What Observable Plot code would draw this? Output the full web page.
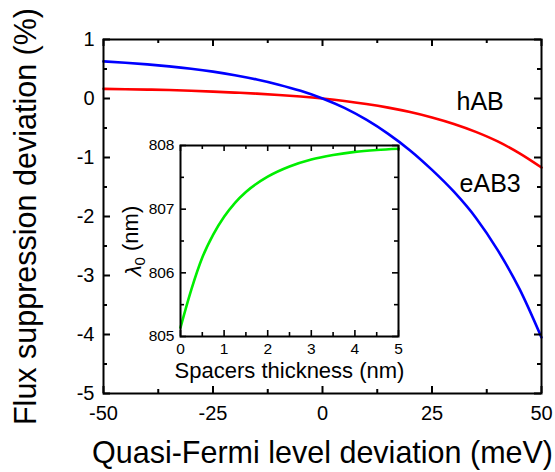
<!DOCTYPE html>
<html><head><meta charset="utf-8">
<script src="https://cdn.jsdelivr.net/npm/d3@7"></script>
<script src="https://cdn.jsdelivr.net/npm/@observablehq/plot@0.6"></script>
<style>
body{margin:0;background:#fff;}
#wrap{position:relative;width:555px;height:472px;background:#fff;}
#wrap svg{position:absolute;left:0;top:0;}
</style></head><body><div id="wrap"></div>
<script>
// Main chart data
const fermi = [-50,-45,-40,-35,-30,-25,-20,-15,-10,-5,0,5,10,15,20,25,30,35,40,45,50];
const hAB  = [0.164,0.158,0.151,0.143,0.132,0.117,0.1,0.082,0.06,0.033,0,-0.041,-0.093,-0.155,-0.23,-0.322,-0.432,-0.566,-0.728,-0.93,-1.17];
const eAB3 = [0.63,0.607,0.578,0.545,0.505,0.456,0.395,0.322,0.235,0.13,0,-0.16,-0.36,-0.6,-0.88,-1.21,-1.58,-2.02,-2.57,-3.23,-4.05];
const seriesNames = ["hAB","eAB3"];
// Inset data
const spacer  = [0,0.25,0.5,0.75,1,1.25,1.5,2,2.5,3,3.5,4,4.5,5];
const lambda0 = [805.14,805.74,806.24,806.6,806.88,807.1,807.27,807.51,807.67,807.78,807.85,807.9,807.93,807.95];
// Tick values
const mainXTicks = [-50,-25,0,25,50];
const mainXMinor = [-37.5,-12.5,12.5,37.5];
const mainYTicks = [1,0,-1,-2,-3,-4,-5];
const mainYMinor = [0.5,-0.5,-1.5,-2.5,-3.5,-4.5];
const insetXTicks = [0,1,2,3,4,5];
const insetXMinor = [0.5,1.5,2.5,3.5,4.5];
const insetYTicks = [805,806,807,808];
const insetYMinor = [805.5,806.5,807.5];
const mainXTitle = "Quasi-Fermi level deviation (meV)";
const mainYTitle = "Flux suppression deviation (%)";
const insetXTitle = "Spacers thickness (nm)";
const insetYTitle = "λ0 (nm)";

const FONT = "Liberation Sans, Arial, Helvetica, sans-serif";
const W = 555, H = 472;

// ---- main plot ----
const mL = 103, mR = 14, mT = 39, mB = 79;
const PW = W - mL - mR, PH = H - mT - mB;
const hData = fermi.map((x,i)=>({x, y:hAB[i]}));
const eData = fermi.map((x,i)=>({x, y:eAB3[i]}));
const fmt = d => String(d);

const main = Plot.plot({
  width: W, height: H, marginLeft: mL, marginRight: mR, marginTop: mT, marginBottom: mB,
  style: {fontFamily: FONT, background: "transparent", overflow: "visible", color: "black"},
  x: {domain: [-50, 50]},
  y: {domain: [-5, 1]},
  marks: [
    Plot.line(hData, {x: "x", y: "y", stroke: "#ff0000", strokeWidth: 2.6, curve: "monotone-x"}),
    Plot.line(eData, {x: "x", y: "y", stroke: "#0000ff", strokeWidth: 2.6, curve: "monotone-x"}),
    Plot.frame({stroke: "black", strokeWidth: 2}),
    // inward ticks on all four sides
    Plot.ruleX(mainXTicks, {x: d=>d, insetTop: PH - 7, strokeWidth: 2}),
    Plot.ruleX(mainXMinor, {x: d=>d, insetTop: PH - 4, strokeWidth: 2}),
    Plot.ruleX(mainXTicks, {x: d=>d, insetBottom: PH - 7, strokeWidth: 2}),
    Plot.ruleX(mainXMinor, {x: d=>d, insetBottom: PH - 4, strokeWidth: 2}),
    Plot.ruleY(mainYTicks, {y: d=>d, insetRight: PW - 7, strokeWidth: 2}),
    Plot.ruleY(mainYMinor, {y: d=>d, insetRight: PW - 4, strokeWidth: 2}),
    Plot.ruleY(mainYTicks, {y: d=>d, insetLeft: PW - 7, strokeWidth: 2}),
    Plot.ruleY(mainYMinor, {y: d=>d, insetLeft: PW - 4, strokeWidth: 2}),
    Plot.axisX({ticks: mainXTicks, tickSize: 0, tickPadding: 12, fontSize: 20, tickFormat: fmt, label: null}),
    Plot.axisY({ticks: mainYTicks, tickSize: 0, tickPadding: 9, fontSize: 20, tickFormat: fmt, label: null}),
    Plot.text([mainXTitle], {text: d=>d, frameAnchor: "bottom", textAnchor: "middle", lineAnchor: "bottom", dy: 69, fontSize: 30.5, fill: "black"}),
    Plot.text([mainYTitle], {text: d=>d, frameAnchor: "left", textAnchor: "middle", lineAnchor: "bottom", rotate: -90, dx: -68, fontSize: 30.5, fill: "black"}),
    Plot.text([seriesNames[0]], {text: d=>d, x: () => 30.6, y: () => -0.2, textAnchor: "start", lineAnchor: "bottom", fontSize: 25, fill: "black"}),
    Plot.text([seriesNames[1]], {text: d=>d, x: () => 31.3, y: () => -1.59, textAnchor: "start", lineAnchor: "bottom", fontSize: 25, fill: "black"})
  ]
});

// ---- inset ----
const iL = 180, iR = W - 398, iT = 145, iB = H - 336;
const IW = W - iL - iR, IH = H - iT - iB;
const gData = spacer.map((x,i)=>({x, y:lambda0[i]}));
const inset = Plot.plot({
  width: W, height: H, marginLeft: iL, marginRight: iR, marginTop: iT, marginBottom: iB,
  style: {fontFamily: FONT, background: "transparent", overflow: "visible", color: "black"},
  x: {domain: [0, 5]},
  y: {domain: [805, 808]},
  marks: [
    Plot.frame({fill: "white", stroke: "none"}),
    Plot.line(gData, {x: "x", y: "y", stroke: "#00ee00", strokeWidth: 2.6, curve: "monotone-x"}),
    Plot.frame({stroke: "black", strokeWidth: 2}),
    Plot.ruleX(insetXTicks, {x: d=>d, insetTop: IH - 6, strokeWidth: 1.6}),
    Plot.ruleX(insetXMinor, {x: d=>d, insetTop: IH - 4, strokeWidth: 1.6}),
    Plot.ruleX(insetXTicks, {x: d=>d, insetBottom: IH - 6, strokeWidth: 1.6}),
    Plot.ruleX(insetXMinor, {x: d=>d, insetBottom: IH - 4, strokeWidth: 1.6}),
    Plot.ruleY(insetYTicks, {y: d=>d, insetRight: IW - 6, strokeWidth: 1.6}),
    Plot.ruleY(insetYMinor, {y: d=>d, insetRight: IW - 4, strokeWidth: 1.6}),
    Plot.ruleY(insetYTicks, {y: d=>d, insetLeft: IW - 6, strokeWidth: 1.6}),
    Plot.ruleY(insetYMinor, {y: d=>d, insetLeft: IW - 4, strokeWidth: 1.6}),
    Plot.axisX({ticks: insetXTicks, tickSize: 0, tickPadding: 6, fontSize: 15.5, tickFormat: fmt, label: null}),
    Plot.axisY({ticks: insetYTicks, tickSize: 0, tickPadding: 6, fontSize: 15.5, tickFormat: fmt, label: null}),
    Plot.text([insetXTitle], {text: d=>d, frameAnchor: "bottom", textAnchor: "middle", lineAnchor: "bottom", dy: 41, fontSize: 22, fill: "black"}),
    Plot.text([insetYTitle], {text: d=>d, frameAnchor: "left", textAnchor: "middle", lineAnchor: "bottom", rotate: -90, dx: -40, fontSize: 22, fill: "black"})
  ]
});

const wrap = document.getElementById("wrap");
wrap.appendChild(main);
wrap.appendChild(inset);

// subscript for lambda_0 label
d3.select(inset).selectAll("text").filter(function(){ return this.textContent === insetYTitle; })
  .each(function(){
    const t = d3.select(this);
    t.text(null);
    t.append("tspan").attr("font-style", "italic").text("λ");
    t.append("tspan").attr("font-size", "15px").attr("dy", "0.3em").text("0");
    t.append("tspan").attr("dy", "-0.3em").text(" (nm)");
  });
</script>
</body></html>
